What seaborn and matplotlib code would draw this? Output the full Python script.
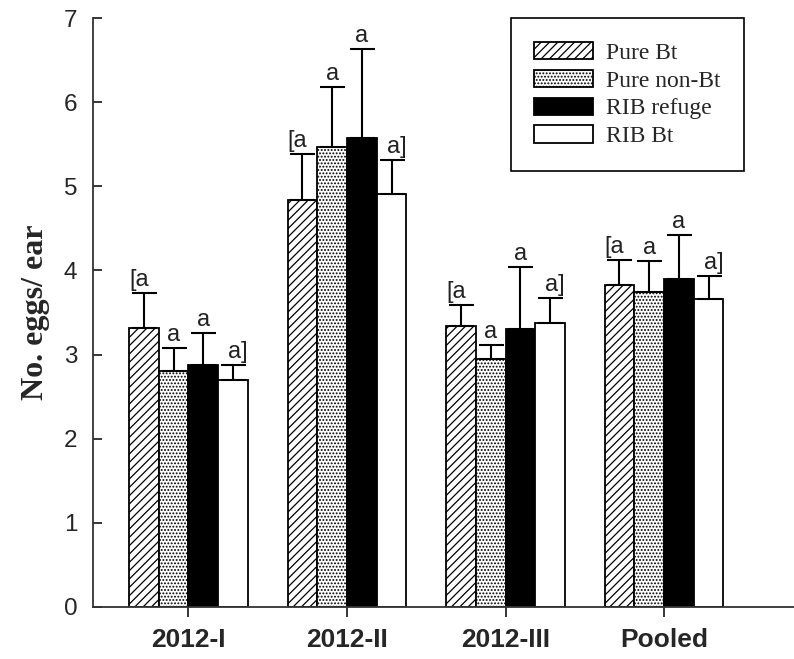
import numpy as np
import pandas as pd
import matplotlib
matplotlib.use("Agg")
import matplotlib.pyplot as plt
import seaborn as sns
from matplotlib.patches import Patch
from matplotlib import transforms

# ---- data ----
groups = ["2012-I", "2012-II", "2012-III", "Pooled"]
treatments = ["Pure Bt", "Pure non-Bt", "RIB refuge", "RIB Bt"]
pure_bt = [3.32, 4.84, 3.34, 3.83]
pure_non_bt = [2.80, 5.47, 2.95, 3.74]
rib_refuge = [2.87, 5.58, 3.30, 3.90]
rib_bt = [2.70, 4.91, 3.37, 3.66]
pure_bt_se = [0.41, 0.55, 0.25, 0.29]
pure_non_bt_se = [0.28, 0.71, 0.16, 0.37]
rib_refuge_se = [0.39, 1.06, 0.74, 0.52]
rib_bt_se = [0.17, 0.41, 0.30, 0.27]
letters = ["[a", "a", "a", "a]"]
y_ticks = [0, 1, 2, 3, 4, 5, 6, 7]

means = [pure_bt, pure_non_bt, rib_refuge, rib_bt]
ses = [pure_bt_se, pure_non_bt_se, rib_refuge_se, rib_bt_se]

rows = []
for t, m in zip(treatments, means):
    for g, v in zip(groups, m):
        rows.append({"group": g, "treatment": t, "value": v})
df = pd.DataFrame(rows)

sns.set_style("white")
plt.rcParams["font.family"] = ["Liberation Sans", "DejaVu Sans"]
plt.rcParams["hatch.linewidth"] = 0.9

fig = plt.figure(figsize=(7.94, 6.59), dpi=100)
ax = fig.add_axes([0.1168, 0.0794, 0.8832, 0.8928])

sns.barplot(data=df, x="group", y="value", hue="treatment", order=groups,
            hue_order=treatments, errorbar=None, width=0.75, ax=ax,
            palette=["white", "white", "black", "white"], legend=False,
            edgecolor="black", linewidth=1.3, saturation=1)

hatches = ["////", ".....", "", ""]
bar_conts = list(ax.containers)
for ci, cont in enumerate(bar_conts):
    for bi, bar in enumerate(cont):
        bar.set_hatch(hatches[ci])
        bar.set_edgecolor("black")
        x = bar.get_x() + bar.get_width() / 2
        h = bar.get_height()
        e = ses[ci][bi]
        ax.errorbar(x, h, yerr=[[0], [e]], fmt="none", ecolor="black",
                    elinewidth=1.5, capsize=9, capthick=1.5, zorder=3)
        dx = {"[a": -5, "a": 0, "a]": 5}[letters[ci]]
        tr = transforms.offset_copy(ax.transData, fig=fig, x=dx * 0.72,
                                    y=7 * 0.72, units="points")
        ax.text(x, h + e, letters[ci], ha="center", va="baseline",
                fontsize=17, transform=tr, color="#222222")

ax.set_ylim(0, 7)
ax.set_xlim(-0.604, 3.82)
ax.set_yticks(y_ticks)
ax.set_yticklabels([str(v) for v in y_ticks], fontsize=17.5)
ax.set_xticks(range(len(groups)))
ax.set_xticklabels(groups, fontsize=19, fontweight="bold")
ax.tick_params(axis="y", direction="in", length=6.5, width=1.3, pad=11,
               left=True)
ax.tick_params(axis="x", direction="out", length=7, width=1.3, pad=8,
               bottom=True)
ax.set_xlabel("")
ax.set_ylabel("No. eggs/ ear", fontsize=23, fontweight="bold",
              family=["Liberation Serif", "DejaVu Serif"], labelpad=10)

for s in ["top", "right"]:
    ax.spines[s].set_visible(False)
for s in ["left", "bottom"]:
    ax.spines[s].set_color("#333333")
    ax.spines[s].set_linewidth(1.3)

handles = [Patch(facecolor="white", edgecolor="black", hatch="////", lw=1.3),
           Patch(facecolor="white", edgecolor="black", hatch=".....", lw=1.3),
           Patch(facecolor="black", edgecolor="black", lw=1.3),
           Patch(facecolor="white", edgecolor="black", lw=1.3)]
leg = ax.legend(handles, treatments, loc="upper left",
                bbox_to_anchor=(0.596, 1.0), borderaxespad=0,
                prop={"family": ["Liberation Serif", "DejaVu Serif"], "size": 17},
                handlelength=2.5, handleheight=0.75, handletextpad=0.55,
                labelspacing=0.25, borderpad=1.0, fancybox=False,
                framealpha=1, edgecolor="black")
leg.get_frame().set_linewidth(1.2)

fig.savefig("out.png", dpi=100)
